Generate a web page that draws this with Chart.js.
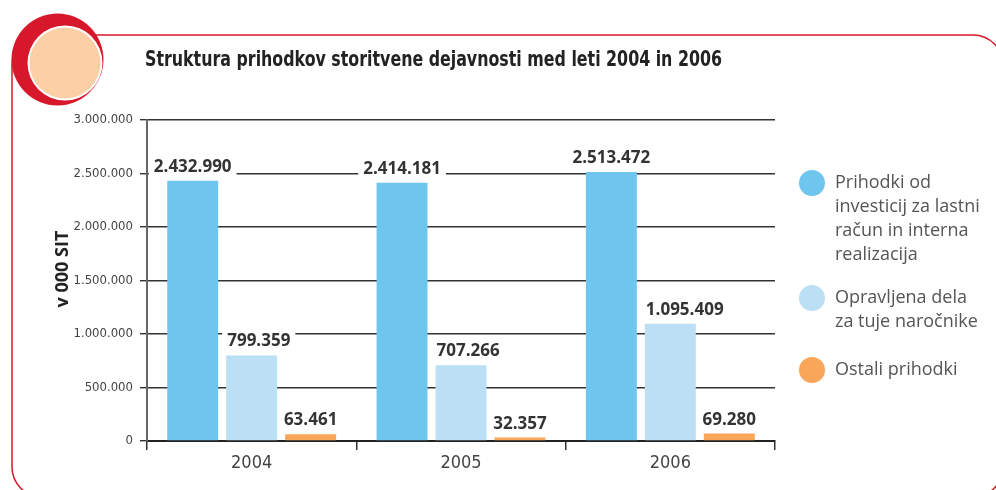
<!DOCTYPE html>
<html>
<head>
<meta charset="utf-8">
<script src="https://cdn.jsdelivr.net/npm/chart.js@4"></script>
<style>
  html, body { margin: 0; padding: 0; background: #fff; }
  canvas { display: block; }
</style>
</head>
<body>
<canvas id="chart" width="996" height="490"></canvas>
<script>
"use strict";

const years = ['2004', '2005', '2006'];
const prihodkiInvesticij = [2432990, 2414181, 2513472];
const opravljenaDela = [799359, 707266, 1095409];
const ostaliPrihodki = [63461, 32357, 69280];

const seriesNames = [
    ['Prihodki od', 'investicij za lastni', 'račun in interna', 'realizacija'],
    ['Opravljena dela', 'za tuje naročnike'],
    ['Ostali prihodki']
];
const seriesColors = ['#6EC6EE', '#BBE0F6', '#F9A65A'];

const chartTitle = 'Struktura prihodkov storitvene dejavnosti med leti 2004 in 2006';
const yTitle = 'v 000 SIT';

const narrow = '"DejaVu Sans Condensed", "DejaVu Sans", sans-serif';
const sans = '"Open Sans", "Noto Sans", sans-serif';

const fmt = v => String(v).replace(/\B(?=(\d{3})+(?!\d))/g, '.');

// frame, badge, titles, legend
const decor = {
    id: 'decor',
    beforeDraw(chart) {
        const ctx = chart.ctx;
        ctx.save();
        ctx.strokeStyle = '#D7182A';
        ctx.lineWidth = 1.5;
        ctx.beginPath();
        ctx.roundRect(12, 35, 991, 462, 30);
        ctx.stroke();

        ctx.fillStyle = '#D7182A';
        ctx.beginPath();
        ctx.arc(57.5, 59.5, 46, 0, Math.PI * 2);
        ctx.fill();
        ctx.fillStyle = '#fff';
        ctx.beginPath();
        ctx.arc(65, 63, 37.5, 0, Math.PI * 2);
        ctx.fill();
        ctx.fillStyle = '#FCCFA4';
        ctx.beginPath();
        ctx.arc(65, 63, 35.5, 0, Math.PI * 2);
        ctx.fill();

        ctx.fillStyle = '#222';
        ctx.font = 'bold 21px ' + narrow;
        ctx.textBaseline = 'alphabetic';
        ctx.textAlign = 'left';
        ctx.fillText(chartTitle, 145, 66, 577);

        ctx.translate(68, 269);
        ctx.rotate(-Math.PI / 2);
        ctx.font = 'bold 18px ' + sans;
        ctx.textAlign = 'center';
        ctx.fillStyle = '#222';
        ctx.fillText(yTitle, 0, 0);
        ctx.restore();

        // legend
        ctx.save();
        const tops = [183, 298, 370];
        seriesNames.forEach((lines, i) => {
            ctx.fillStyle = seriesColors[i];
            ctx.beginPath();
            ctx.arc(812, tops[i], 13, 0, Math.PI * 2);
            ctx.fill();
            ctx.fillStyle = '#555';
            ctx.font = '18px ' + sans;
            ctx.textBaseline = 'middle';
            lines.forEach((t, j) => ctx.fillText(t, 835, tops[i] + j * 24));
        });
        ctx.restore();
    }
};

// value labels with white box over grid lines
const valueLabels = {
    id: 'valueLabels',
    afterDatasetsDraw(chart) {
        const ctx = chart.ctx;
        ctx.save();
        ctx.font = 'bold 17px ' + sans;
        ctx.textBaseline = 'alphabetic';
        chart.data.datasets.forEach((ds, i) => {
            chart.getDatasetMeta(i).data.forEach((bar, j) => {
                const txt = fmt(ds.data[j]);
                const w = ctx.measureText(txt).width;
                const left = ds.labelAlign === 'left' ? bar.x - bar.width / 2 + 1 : bar.x - w / 2;
                const base = bar.y - 9;
                ctx.fillStyle = '#fff';
                ctx.fillRect(left - 5, base - 18, w + 10, 22);
                ctx.fillStyle = '#333';
                ctx.textAlign = 'left';
                ctx.fillText(txt, left, base);
            });
        });
        ctx.restore();
    }
};

new Chart(document.getElementById('chart'), {
    type: 'bar',
    data: {
        labels: years,
        datasets: [
            { label: seriesNames[0].join(' '), data: prihodkiInvesticij, backgroundColor: seriesColors[0] },
            { label: seriesNames[1].join(' '), data: opravljenaDela, backgroundColor: seriesColors[1], labelAlign: 'left' },
            { label: seriesNames[2].join(' '), data: ostaliPrihodki, backgroundColor: seriesColors[2] }
        ]
    },
    options: {
        responsive: false,
        animation: false,
        layout: { padding: { top: 120, right: 221, left: 0, bottom: 0 } },
        datasets: { bar: { categoryPercentage: 0.845, barPercentage: 0.864 } },
        plugins: {
            legend: { display: false },
            tooltip: { enabled: false }
        },
        scales: {
            x: {
                grid: { offset: true, drawOnChartArea: false, color: '#333', lineWidth: 1.5, tickLength: 9 },
                border: { color: '#222', width: 2 },
                ticks: { color: '#444', font: { family: narrow, size: 18 }, padding: 3 },
                afterFit: s => { s.height = 49; }
            },
            y: {
                min: 0,
                max: 3000000,
                grid: { color: '#333', lineWidth: 1.4, tickLength: 7 },
                border: { color: '#666', width: 2 },
                ticks: {
                    stepSize: 500000,
                    color: '#444',
                    font: { family: narrow, size: 13 },
                    padding: 7,
                    callback: v => fmt(v)
                },
                afterFit: s => { s.width = 147; }
            }
        }
    },
    plugins: [decor, valueLabels]
});
</script>
</body>
</html>
